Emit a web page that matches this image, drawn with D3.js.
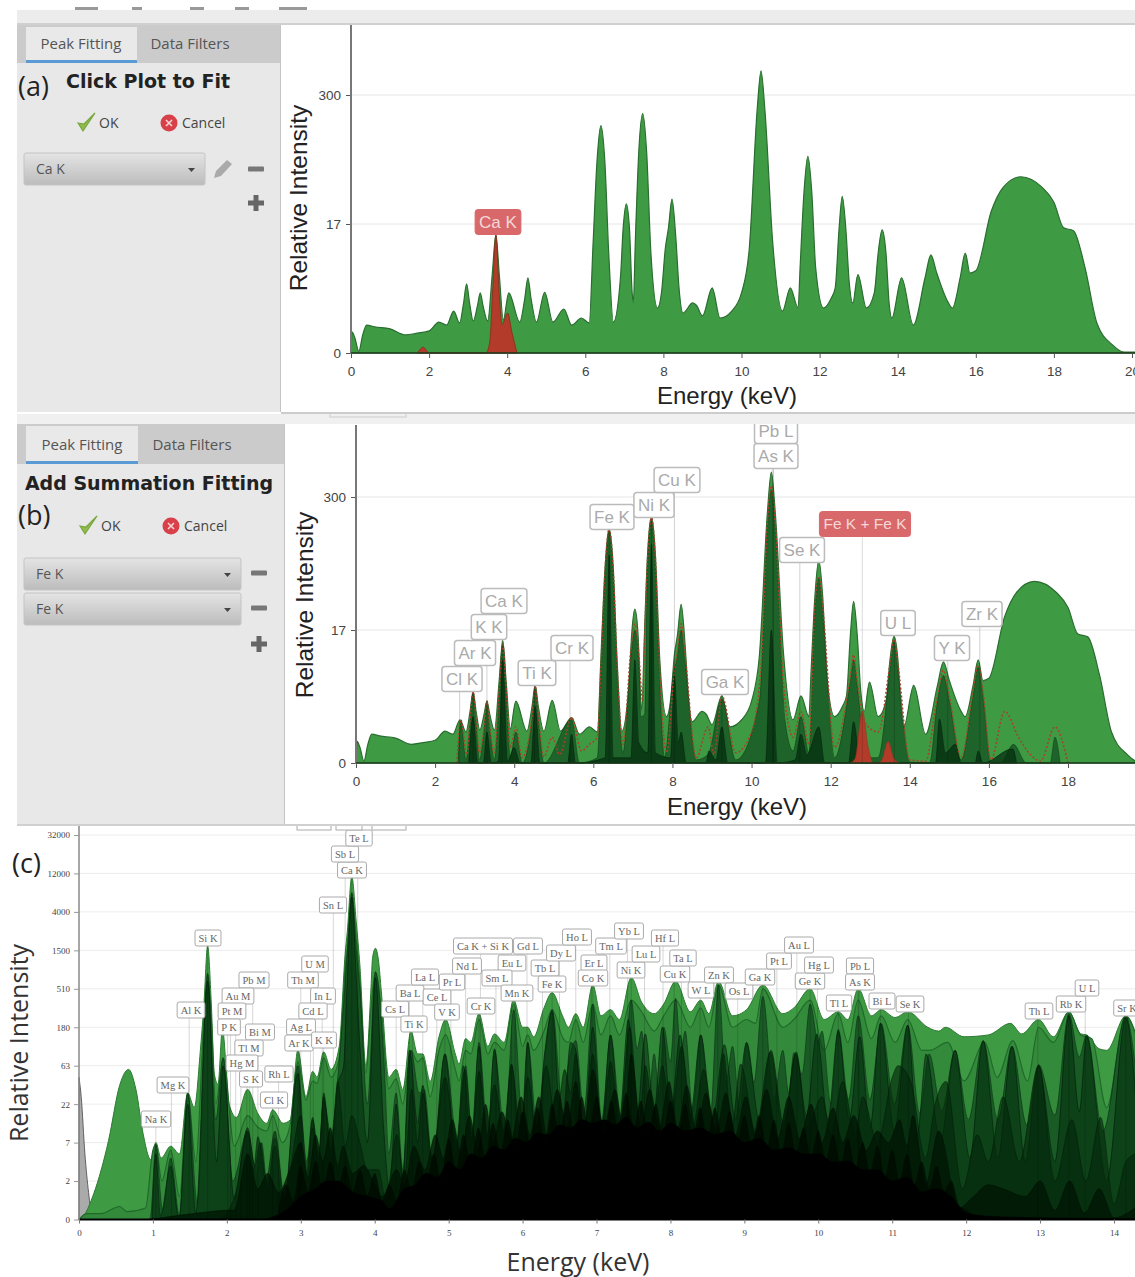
<!DOCTYPE html>
<html><head><meta charset="utf-8">
<script src="https://cdn.jsdelivr.net/npm/d3@7"></script>
<style>html,body{margin:0;padding:0;background:#fff}svg{display:block}</style>
</head><body><svg id="c" width="1135" height="1277"></svg>
<script>
// ---------- DATA: spectra as [energy keV, relative intensity] ----------
const spectrumTotal=[[0,0],[.03,.6],[.1,.4],[.2,.04],[.3,.5],[.4,.87],[.6,.8],[1,.72],[1.4,.5],[1.7,.56],[2,.64],[2.25,1],[2.45,.87],[2.63,1.56],[2.78,.96],[2.88,2],[2.96,3.7],[3.04,2],[3.13,1.05],[3.24,1.9],[3.31,2.84],[3.38,1.9],[3.5,1.05],[3.62,5],[3.71,13.3],[3.8,4.6],[3.9,1.1],[4.04,2.84],[4.32,1],[4.45,2.4],[4.53,4.4],[4.61,2.4],[4.75,1],[4.96,2.9],[5.17,1],[5.45,1.68],[5.65,.87],[5.9,1.19],[6.1,.96],[6.2,10.8],[6.3,70],[6.4,153],[6.5,70],[6.6,8.4],[6.72,1],[6.9,4.4],[6.97,15.5],[7.05,27],[7.13,15.5],[7.2,2.84],[7.23,2.07],[7.28,10.8],[7.37,87],[7.47,200],[7.57,87],[7.68,8.4],[7.85,1.74],[7.95,2.84],[8.05,9.5],[8.13,15.5],[8.22,30],[8.32,12],[8.4,3.3],[8.5,1.45],[8.75,2.07],[8.85,1.9],[9,1.3],[9.25,3.3],[9.45,1.19],[9.75,1.56],[10,2.84],[10.2,9.5],[10.4,214],[10.5,510],[10.6,214],[10.8,10.8],[11.05,1.56],[11.25,3.3],[11.45,1.74],[11.5,5.7],[11.6,35],[11.7,78],[11.8,35],[11.9,5.7],[12.1,1.74],[12.3,2.43],[12.4,3.3],[12.5,15.5],[12.58,32],[12.67,15.5],[12.76,3.8],[12.85,2.07],[12.98,4.8],[13.2,1.74],[13.4,2.84],[13.5,8.4],[13.6,14.8],[13.7,8.4],[13.78,2.07],[13.85,1.19],[14.1,4.4],[14.4,.87],[14.7,4.4],[14.85,8],[15,5],[15.3,2.07],[15.4,1.74],[15.6,4.4],[15.73,8.4],[15.85,5],[16,5.3],[16.4,23],[16.7,39],[17.15,49.5],[17.7,39],[18,28],[18.25,15.5],[18.5,14.5],[18.8,5.7],[19.1,.96],[19.5,.2],[19.8,.02],[20.3,.02]];
const aFitCaK=[[1.7,0],[1.85,.14],[2,0],[3.45,0],[3.55,.25],[3.62,2.5],[3.71,13],[3.8,2.5],[3.87,.9],[4.01,1.45],[4.12,.6],[4.25,0]];
const bFitSum=[[2.55,0],[2.65,1.56],[2.8,.2],[2.88,1.45],[2.96,3.7],[3.04,1.45],[3.12,.25],[3.24,1.19],[3.31,2.84],[3.38,1.19],[3.5,.25],[3.62,3.8],[3.71,12],[3.8,3.8],[3.9,.4],[4.04,1.19],[4.2,.12],[4.45,1.74],[4.53,4.3],[4.61,1.74],[4.75,.14],[4.96,.75],[5.15,.2],[5.45,1.68],[5.7,.3],[5.9,.5],[6.1,.75],[6.2,8.4],[6.3,65],[6.4,153],[6.5,65],[6.6,7.6],[6.75,.5],[6.95,10.8],[7.05,19.5],[7.15,9.5],[7.25,2.84],[7.28,8.4],[7.37,78],[7.47,192],[7.57,78],[7.67,7.6],[7.85,.25],[8.05,6.5],[8.13,10.8],[8.22,19.5],[8.32,9.5],[8.6,.12],[8.9,1.19],[9.05,.2],[9.25,3.3],[9.6,.25],[10,.96],[10.25,8.4],[10.4,170],[10.5,380],[10.6,170],[10.8,5],[11.05,.75],[11.25,2.07],[11.45,.5],[11.6,28],[11.7,55],[11.8,28],[12.1,.4],[12.5,5.7],[12.58,9.5],[12.67,5],[12.85,1.45],[13.2,.96],[13.5,7.6],[13.6,13.7],[13.7,7.6],[14,.07],[14.4,.04],[14.7,3.3],[14.85,6.5],[15,3.3],[15.3,.12],[15.6,3.8],[15.73,7.4],[15.85,3.8],[16.05,.07],[16.4,2.07],[16.75,.75],[17.05,.2],[17.3,.04],[17.67,1.19],[18,0]];
const bPeaksMid=[[2.58,0],[2.65,1.45],[2.78,.07],[2.88,1.3],[2.96,3.6],[3.04,1.3],[3.12,.07],[3.24,1.05],[3.31,2.6],[3.38,1.05],[3.5,.07],[3.62,3.4],[3.71,12],[3.8,3.4],[3.9,.12],[4.04,.96],[4.2,0],[4.45,1.56],[4.53,4.2],[4.61,1.56],[4.75,0],[5.45,1.56],[5.65,0],[6.1,.12],[6.2,7],[6.3,58],[6.4,145],[6.5,58],[6.6,6],[6.75,.25],[6.95,9],[7.05,17],[7.15,8],[7.2,1.74],[7.3,1.9],[7.37,66],[7.47,180],[7.57,66],[7.67,6],[7.8,.12],[8.03,6.2],[8.13,9.5],[8.22,17],[8.32,8],[8.6,.07],[8.9,.2],[9.25,3],[9.6,.07],[10.2,2.84],[10.4,150],[10.5,350],[10.6,150],[10.85,1.45],[11.05,.3],[11.25,1.74],[11.45,.25],[11.6,25],[11.7,53],[11.8,25],[12.1,.12],[12.5,5],[12.58,8.4],[12.67,4.4],[12.9,.12],[13.2,.12],[13.5,6.5],[13.6,13],[13.7,6.5],[14,.02],[14.5,0],[14.7,2.84],[14.85,5.7],[15,2.84],[15.3,.07],[15.6,3.3],[15.73,7],[15.85,3.3],[16.05,0],[16.3,0],[16.62,.5],[16.95,0],[17.55,0],[17.67,.75],[17.8,0]];
const bPeaksDark=[[2.85,0],[2.96,1.74],[3.08,0],[3.22,0],[3.31,.96],[3.42,0],[3.6,.04],[3.71,8.4],[3.83,.04],[4,.4],[4.15,0],[4.42,0],[4.53,2.43],[4.65,0],[5.35,0],[5.45,.87],[5.55,0],[6.3,.12],[6.4,87],[6.5,.12],[6.95,.12],[7.05,8.4],[7.15,.56],[7.38,.25],[7.47,109],[7.57,.25],[7.95,.12],[8.05,5.7],[8.15,.56],[8.22,.96],[8.35,0],[8.85,0],[8.92,.3],[9.1,.07],[9.25,1.19],[9.4,0],[10.35,0],[10.5,17],[10.65,0],[11.1,.07],[11.25,.87],[11.4,.2],[11.7,1.19],[11.85,0],[12.45,0],[12.58,1.45],[12.75,0],[14.65,0],[14.75,1.6],[14.9,.25],[15.15,.5],[15.3,0],[15.65,0],[15.73,.3],[15.85,0],[16.6,.36],[16.7,0]];
const bFitFeKFeK=[[12.5,0],[12.62,.1],[12.8,2.1],[12.95,.4],[13.08,0],[13.2,0],[13.3,.08],[13.45,.6],[13.6,.1],[13.75,0]];

const cPileup=[[0,46],[.03,27],[.08,5],[.13,1.16],[.18,.05],[.22,0]];
const cTotal=[[0,0],[.06,.1],[.2,1.1],[.4,7.5],[.55,37],[.67,57],[.77,33],[.87,8.9],[.97,4.2],[1.04,7],[1.11,4.4],[1.24,6.3],[1.36,5],[1.47,30],[1.56,20],[1.64,92],[1.69,338],[1.74,1680],[1.79,338],[1.83,51],[1.88,38],[1.94,170],[2.03,22],[2.13,15],[2.28,33],[2.42,16.7],[2.54,12.6],[2.62,18.7],[2.76,12.6],[2.86,14],[2.96,96],[3.07,27],[3.16,54],[3.22,46],[3.31,92],[3.41,57],[3.52,107],[3.6,1340],[3.63,2450],[3.69,11000],[3.75,3100],[3.8,970],[3.88,63],[3.95,530],[3.97,1200],[4.01,1580],[4.05,1150],[4.09,470],[4.19,46],[4.29,57],[4.38,33],[4.49,162],[4.58,87],[4.65,87],[4.75,41],[4.87,139],[4.96,222],[5.09,87],[5.14,66],[5.23,132],[5.3,119],[5.41,260],[5.53,107],[5.62,150],[5.75,119],[5.88,375],[6,180],[6.07,180],[6.15,139],[6.29,304],[6.4,460],[6.54,246],[6.62,180],[6.72,260],[6.82,180],[6.95,566],[7.06,246],[7.19,290],[7.31,222],[7.47,698],[7.61,355],[7.78,260],[7.91,338],[8.07,629],[8.27,274],[8.41,375],[8.52,260],[8.65,629],[8.84,246],[9.03,290],[9.25,566],[9.52,260],[9.67,304],[9.89,510],[10.08,222],[10.27,274],[10.4,222],[10.54,510],[10.72,246],[10.85,290],[11.04,234],[11.21,274],[11.48,180],[11.63,162],[11.72,180],[11.97,139],[12.3,146],[12.6,200],[12.75,150],[12.98,222],[13.18,139],[13.39,274],[13.55,150],[13.63,146],[13.8,100],[13.9,96],[14.16,246],[14.29,150]];
const cSecond=[[0,0],[.1,.18],[.3,.18],[.55,.45],[.65,.25],[.9,.39],[1,5.6],[1.04,6.6],[1.12,2],[1.24,5.6],[1.36,.93],[1.47,30],[1.58,3.9],[1.69,222],[1.74,780],[1.79,222],[1.85,22],[1.95,78],[2.1,6.3],[2.28,15.8],[2.42,11.2],[2.54,10],[2.62,15.8],[2.75,7],[2.85,11.2],[2.96,70],[3.07,24.6],[3.16,41.6],[3.22,39],[3.31,78],[3.41,46],[3.52,78],[3.6,870],[3.63,1500],[3.69,6900],[3.75,1950],[3.8,629],[3.88,51],[3.95,304],[3.98,566],[4.01,820],[4.05,566],[4.09,274],[4.19,33.7],[4.29,44],[4.38,22],[4.49,96],[4.58,70],[4.65,78],[4.75,27],[4.87,96],[4.96,146],[5.09,57],[5.14,41.6],[5.23,96],[5.3,87],[5.41,222],[5.53,87],[5.62,119],[5.75,96],[5.88,338],[6,107],[6.07,146],[6.15,96],[6.29,162],[6.4,290],[6.55,132],[6.62,119],[6.72,222],[6.82,119],[6.95,338],[7.06,146],[7.19,246],[7.31,146],[7.47,375],[7.61,274],[7.78,162],[7.91,246],[8.07,375],[8.27,180],[8.41,304],[8.52,180],[8.65,566],[8.84,180],[9.03,222],[9.15,200],[9.25,510],[9.52,180],[9.67,222],[9.89,375],[10.08,96],[10.27,260],[10.4,119],[10.54,375],[10.72,132],[10.85,246],[11.04,119],[11.21,222],[11.4,96],[11.5,96],[11.75,119],[11.97,41.6],[12.25,119],[12.42,46],[12.63,125],[12.83,41.6],[12.98,180],[13.18,119],[13.39,274],[13.55,146],[13.7,132],[13.9,19.8],[14.16,246],[14.29,154]];
const cThird=[[.95,0],[.97,.1],[1.04,6.6],[1.13,.3],[1.24,4.4],[1.36,.1],[1.47,30],[1.6,.6],[1.74,780],[1.85,14],[1.95,78],[2.08,2],[2.28,10],[2.4,2.7],[2.47,7],[2.55,1.4],[2.65,8],[2.78,.7],[2.96,63],[3.08,2.7],[3.16,14],[3.24,5],[3.31,24],[3.41,9],[3.5,46],[3.6,600],[3.63,1500],[3.69,6900],[3.75,1500],[3.8,500],[3.9,22],[4.01,820],[4.13,60],[4.19,5],[4.29,30],[4.38,3],[4.49,96],[4.6,30],[4.67,33],[4.78,3.9],[4.95,87],[5.12,7],[5.23,63],[5.32,7],[5.41,119],[5.53,9],[5.62,96],[5.76,9],[5.88,290],[6,12],[6.07,119],[6.2,10],[6.31,96],[6.4,290],[6.55,17],[6.6,48],[6.72,125],[6.83,17],[6.95,338],[7.07,14],[7.19,146],[7.33,15],[7.47,375],[7.55,100],[7.61,162],[7.7,22],[7.78,87],[7.85,27],[7.91,180],[8,70],[8.07,395],[8.14,90],[8.2,162],[8.3,18],[8.41,146],[8.54,15],[8.65,566],[8.75,40],[8.84,107],[8.94,18],[9.03,119],[9.13,40],[9.25,416],[9.4,25],[9.52,96],[9.6,30],[9.67,90],[9.78,50],[9.89,338],[10,120],[10.05,162],[10.17,22],[10.27,170],[10.41,25],[10.54,246],[10.7,25],[10.85,200],[11.03,22],[11.21,190],[11.37,17],[11.5,87],[11.67,18],[11.85,96],[12.03,14],[12.23,125],[12.43,14],[12.62,107],[12.82,12],[12.98,65],[13.2,16],[13.39,260],[13.53,80],[13.63,146],[13.85,10],[14.16,246],[14.29,60]];
const cFourth=[[.99,.05],[1.04,5],[1.1,.1],[1.24,3.4],[1.35,.05],[1.47,22],[1.58,.2],[1.74,629],[1.86,3.9],[1.95,63],[2.1,.8],[2.28,11],[2.38,3.4],[2.45,7],[2.55,1.4],[2.65,6.3],[2.76,.3],[2.96,51],[3.07,1.7],[3.16,11],[3.24,3],[3.31,27],[3.41,4.4],[3.5,37],[3.58,63],[3.63,700],[3.69,6100],[3.75,700],[3.8,107],[3.9,7],[4.01,698],[4.12,11],[4.2,1.4],[4.29,22],[4.38,2],[4.47,96],[4.58,12.6],[4.65,37],[4.78,2.65],[4.95,87],[5.1,4.4],[5.2,63],[5.3,6.3],[5.41,107],[5.52,7],[5.62,100],[5.74,6.3],[5.85,66],[5.97,5.6],[6.07,119],[6.18,6.3],[6.3,92],[6.4,274],[6.53,7],[6.65,119],[6.72,96],[6.83,8.9],[6.95,180],[7.07,11],[7.19,146],[7.31,14],[7.43,222],[7.55,15.8],[7.66,150],[7.78,17.7],[7.89,180],[8.01,17.7],[8.13,146],[8.27,15.8],[8.41,146],[8.57,14],[8.73,112],[8.88,14],[9.03,119],[9.2,14],[9.36,96],[9.53,12.6],[9.7,92],[9.84,15.8],[9.98,150],[10.13,14],[10.27,162],[10.42,14],[10.56,139],[10.7,11],[10.84,200],[11.03,10],[11.21,190],[11.34,8.9],[11.46,87],[11.65,7],[11.85,96],[12.05,4.4],[12.23,125],[12.43,4.4],[12.62,107],[12.8,3.9],[12.98,63],[13.2,3.9],[13.39,246],[13.53,17.7],[13.63,139],[13.9,2],[14.16,234],[14.29,30]];
const cFifth=[[1.9,0],[2,.2],[2.12,1.16],[2.28,10],[2.36,3],[2.42,8.4],[2.53,2],[2.65,10],[2.78,.93],[3,15.8],[3.08,3.9],[3.16,15],[3.24,4.4],[3.31,30],[3.41,5.6],[3.5,41],[3.6,6.3],[3.69,15.8],[3.8,7],[3.9,3],[4.05,3],[4.15,.73],[4.3,8.9],[4.4,2],[4.5,33],[4.58,7],[4.65,30],[4.78,4.4],[4.95,46],[5.1,7],[5.22,57],[5.32,8.9],[5.41,54],[5.52,8.9],[5.62,37.5],[5.74,10],[5.85,63],[5.97,11],[6.07,46],[6.18,11],[6.32,63],[6.45,12.6],[6.57,57],[6.65,30],[6.72,87],[6.83,10],[6.95,87],[7.07,10],[7.19,70],[7.31,12.6],[7.45,180],[7.58,14],[7.66,63],[7.78,15.8],[7.89,63],[8.01,14],[8.15,107],[8.3,11],[8.45,57],[8.6,11],[8.72,87],[8.83,11],[8.95,66],[9.15,10],[9.35,92],[9.53,10],[9.7,87],[9.85,11],[10.05,27],[10.17,8.9],[10.33,41],[10.5,8.9],[10.6,27],[10.8,7],[11,46],[11.08,63],[11.25,41],[11.45,4.4],[11.58,22],[11.73,41],[11.95,1.4],[12.15,8.9],[12.3,3.9],[12.5,27],[12.72,3.9],[12.98,63],[13.2,2],[13.43,14],[13.62,2],[13.82,15],[14,.55],[14.16,3.9],[14.29,5]];
const cSixth=[[.95,0],[1.6,.2],[2,.3],[2.1,.3],[2.28,5],[2.42,1.4],[2.55,2.65],[2.7,1.16],[2.85,3],[3,7],[3.1,2.3],[3.2,8.9],[3.3,3.9],[3.4,11],[3.5,3.45],[3.57,6.3],[3.7,2.65],[3.85,3.45],[4,1.7],[4.1,.93],[4.3,3],[4.4,1.7],[4.53,6.3],[4.68,3],[4.82,8.9],[4.93,4.4],[5.05,14],[5.17,5],[5.28,15.8],[5.4,5.6],[5.5,22],[5.6,7],[5.72,17.7],[5.85,7.9],[5.98,27],[6.1,8.9],[6.22,27],[6.33,8.9],[6.47,33],[6.6,11],[6.72,41],[6.83,10],[6.95,57],[7.1,8.9],[7.25,33],[7.37,10],[7.47,87],[7.6,11],[7.72,33],[7.85,11],[7.98,41],[8.1,11],[8.22,37],[8.35,10],[8.48,30],[8.62,10],[8.75,30],[8.88,8.9],[9.02,27],[9.15,8.9],[9.3,33],[9.45,7.9],[9.6,27],[9.75,7.9],[9.9,22],[10.05,7],[10.2,19.8],[10.33,7],[10.48,15.8],[10.65,5.6],[10.8,10],[10.95,7],[11.1,14],[11.2,6.3],[11.28,15.8],[11.45,1.7],[11.63,10],[11.9,.39],[12.1,.93],[12.3,1.7],[12.5,1.4],[12.8,.93],[13,2],[13.2,.3],[13.4,2],[13.6,.2],[13.8,1.4],[14,.05],[14.29,.4]];
const cSpikes=[[2.7,.3],[2.8,1.7],[2.9,.7],[3,3.4],[3.1,1.2],[3.2,3.9],[3.3,1.4],[3.4,3.9],[3.5,1.4],[3.6,3.4],[3.7,1.2],[3.8,3],[3.9,1],[4,2.65],[4.1,.7],[4.2,1.7],[4.3,.7],[4.4,3],[4.5,1.2],[4.6,3.9],[4.7,1.7],[4.8,5],[4.9,2],[5,7.9],[5.1,3],[5.2,8.9],[5.3,3.4],[5.4,11],[5.5,4.4],[5.6,12.6],[5.7,5],[5.8,14],[5.9,5.6],[6,17.7],[6.1,7],[6.2,19.8],[6.3,7],[6.4,22],[6.5,8.9],[6.6,24],[6.7,8.9],[6.8,27],[6.9,10],[7,27],[7.1,10],[7.2,24],[7.3,10],[7.4,30],[7.5,10],[7.6,24],[7.7,8.9],[7.8,22],[7.9,8.9],[8,24],[8.1,8.9],[8.2,22],[8.3,8],[8.4,19.8],[8.5,7.9],[8.6,19.8],[8.7,7.9],[8.8,17.7],[8.9,7],[9,15.8],[9.1,6.3],[9.2,15.8],[9.3,5.6],[9.4,14],[9.5,5],[9.6,12.6],[9.7,5],[9.8,11],[9.9,4.4],[10,10],[10.1,3.9],[10.2,8.9],[10.3,3.4],[10.4,7.9],[10.5,3],[10.6,7],[10.7,2.65],[10.8,6.3],[10.9,2.3],[11,5.6],[11.1,2],[11.2,5],[11.3,1.7],[11.4,3.9],[11.5,1.4],[11.6,3.4],[11.7,1.2],[11.8,2],[11.9,.5],[12,.3],[12.2,0]];
const cSeventh=[[2.5,0],[2.8,.3],[3,.93],[3.2,1.4],[3.35,2],[3.5,2],[3.7,1.2],[3.9,.93],[4.1,.7],[4.2,.35],[4.4,1.4],[4.55,1.7],[4.7,2.65],[4.85,2.3],[5,3.9],[5.15,3],[5.3,5],[5.45,4.4],[5.6,6.3],[5.75,5.6],[5.9,8],[6.05,7],[6.2,9.4],[6.35,8.9],[6.5,12],[6.65,11],[6.8,14],[6.95,12.6],[7.1,14],[7.25,12],[7.4,15],[7.55,11],[7.7,13],[7.85,10],[8,12.6],[8.2,10],[8.4,11],[8.6,9],[8.8,10],[9,7],[9.2,8],[9.4,5.6],[9.6,6],[9.8,5],[10,5],[10.2,3.9],[10.4,4],[10.6,3],[10.8,3],[11,2],[11.2,2.3],[11.4,1.2],[11.6,1.4],[11.8,.9],[12,.2],[12.3,.1],[13,.05],[14.29,.02]];

// ---------- DATA: ticks and labels ----------
const abYTicks=[0,17,300];
const abXTicksA=[0,2,4,6,8,10,12,14,16,18,20];
const abXTicksB=[0,2,4,6,8,10,12,14,16,18];
const cYTicks=[0,2,7,22,63,180,510,1500,4000,12000,32000];
const cXTicks=[0,1,2,3,4,5,6,7,8,9,10,11,12,13,14];
const bLabelNames=["Cl K","Ar K","K K","Ca K","Ti K","Cr K","Fe K","Ni K","Cu K","Ga K","As K","Pb L","Se K","U L","Y K","Zr K"];
const bLabelEnergies=[2.62,2.96,3.31,3.69,4.51,5.41,6.4,7.47,8.05,9.25,10.54,10.55,11.22,13.61,14.96,15.77];
const cLabelNames=["Si K","Al K","Mg K","Na K","Pb M","Au M","Pt M","P K","Bi M","Tl M","Hg M","S K","Rh L","Cl K","U M","Th M","In L","Cd L","Ag L","Ar K","K K","Sn L","Ca K","Sb L","Te L","Cs L","Ba L","La L","Ce L","Ti K","Pr L","V K","Nd L","Ca K + Si K","Gd L","Eu L","Sm L","Cr K","Mn K","Tb L","Fe K","Dy L","Ho L","Er L","Co K","Tm L","Ni K","Yb L","Lu L","Hf L","Cu K","Ta L","W L","Zn K","Os L","Ga K","Pt L","Ge K","Au L","Hg L","Tl L","Pb L","As K","Bi L","Se K","Th L","Rb K","U L","Sr K"];
const cLabelEnergies=[1.74,1.49,1.25,1.04,2.35,2.12,2.05,2.01,2.42,2.27,2.19,2.31,2.7,2.62,3.17,3,3.29,3.13,2.98,2.96,3.31,3.44,3.69,3.6,3.77,4.29,4.47,4.65,4.84,4.51,5.03,4.95,5.23,5.43,6.06,5.85,5.64,5.41,5.9,6.27,6.4,6.5,6.72,6.95,6.93,7.18,7.47,7.42,7.65,7.9,8.05,8.15,8.4,8.64,8.91,9.25,9.44,9.89,9.71,9.99,10.27,10.55,10.54,10.84,11.22,12.97,13.39,13.61,14.16];

// ---------- LAYOUT ----------
const bLabelCx=[462,475,489,504,537,572,612,654,677,725,776,776,802,898,952,982];
const bLabelCy=[679,653,627,601,673,648,517,505,480,682,456,431,550,623,648,614];
const cLabelCx=[208,191,173,156,254,238,232,229,260,249,242,251,279,274,315,303,323,313,301,299,324,333,352,345,359,395,410,425,437,414,452,447,467,483,528,512,497,481,517,545,552,561,577,594,593,611,631,629,646,665,675,683,701,719,739,760,779,810,799,819,839,860,860,882,910,1039,1071,1087,1127];
const cLabelCy=[938,1010,1085,1119,980,996,1011,1027,1032,1048,1063,1079,1074,1100,964,980,996,1011,1027,1043,1040,905,870,854,838,1009,993,977,997,1024,982,1012,966,946,946,963,978,1006,993,968,984,953,937,963,978,946,970,931,954,938,974,958,990,975,991,977,961,981,945,965,1003,966,982,1001,1004,1011,1004,988,1008];

const svg=d3.select("#c");
const defs=svg.append("defs");
const grad=defs.append("linearGradient").attr("id","combo").attr("x1",0).attr("x2",0).attr("y1",0).attr("y2",1);
grad.append("stop").attr("offset",0).attr("stop-color","#e4e4e4");
grad.append("stop").attr("offset",1).attr("stop-color","#bcbcbc");
defs.append("clipPath").attr("id","clipC").append("rect").attr("x",0).attr("y",826).attr("width",1135).attr("height",451);
defs.append("clipPath").attr("id","clipB").append("rect").attr("x",285).attr("y",424).attr("width",850).attr("height",400);
const SANS="'Liberation Sans',Arial,sans-serif",SERIF="'Liberation Serif',serif",DEJA="'DejaVu Sans',sans-serif",OPEN="'Open Sans',sans-serif";

function makeY(ticks,y0,step){
  return d3.scaleLinear().domain(ticks.map(Math.log1p)).range(ticks.map((_,i)=>y0-i*step));
}
function areaGen(x,y){
  return d3.area().x(d=>x(d[0])).y0(y(0)).y1(d=>y(Math.log1p(d[1]))).curve(d3.curveMonotoneX);
}
function lineGen(x,y){
  return d3.line().x(d=>x(d[0])).y(d=>y(Math.log1p(d[1]))).curve(d3.curveMonotoneX);
}
function fmtAxis(sel,o){
  sel.selectAll("path").remove();
  sel.selectAll("line").attr("stroke",o.tick);
  sel.selectAll("text").attr("font-family",o.font).attr("font-size",o.size).attr("fill",o.color);
}
function labelBox(g,cx,cy,text,o){
  const gg=g.append("g");
  const r=gg.append("rect").attr("rx",o.rx).attr("ry",o.rx).attr("fill",o.fill).attr("stroke",o.stroke).attr("stroke-width",o.sw);
  const t=gg.append("text").attr("x",cx).attr("y",cy+o.size*.35).attr("text-anchor","middle").attr("font-family",o.font).attr("font-size",o.size).attr("fill",o.color).text(text);
  const w=t.node().getComputedTextLength()+o.pad*2;
  r.attr("x",cx-w/2).attr("y",cy-o.h/2).attr("width",w).attr("height",o.h);
}

// ---------- backgrounds ----------
svg.append("rect").attr("x",0).attr("y",0).attr("width",1135).attr("height",1277).attr("fill","#fff");
svg.append("rect").attr("x",17).attr("y",10).attr("width",1118).attr("height",13).attr("fill","#ececec");
[[75,23],[132,10],[190,14],[235,14],[279,28]].forEach(d=>svg.append("rect").attr("x",d[0]).attr("y",7).attr("width",d[1]).attr("height",3).attr("fill","#999"));
svg.append("rect").attr("x",17).attr("y",23).attr("width",1118).attr("height",2).attr("fill","#d0d0d0");

function sidePanel(y0,y1,xR,tabY,tabUnder){
  const g=svg.append("g");
  g.append("rect").attr("x",17).attr("y",y0).attr("width",xR-17).attr("height",y1-y0).attr("fill","#e8e8e8");
  g.append("rect").attr("x",17).attr("y",y0).attr("width",xR-17).attr("height",tabUnder-y0).attr("fill","#cbcbcb");
  g.append("rect").attr("x",26).attr("y",y0+2).attr("width",xR==281?111:112).attr("height",tabUnder-y0-2).attr("fill","#e9e9e9");
  g.append("rect").attr("x",26).attr("y",tabUnder-3).attr("width",xR==281?111:112).attr("height",3).attr("fill","#5b9bd5");
  g.append("rect").attr("x",xR-1).attr("y",y0).attr("width",1.5).attr("height",y1-y0).attr("fill","#c4c4c4");
  g.append("text").attr("x",xR==281?81:82).attr("y",tabY).attr("text-anchor","middle").attr("font-family",OPEN).attr("font-size",15).attr("fill","#555").text("Peak Fitting");
  g.append("text").attr("x",xR==281?190:192).attr("y",tabY).attr("text-anchor","middle").attr("font-family",OPEN).attr("font-size",15).attr("fill","#555").text("Data Filters");
  return g;
}
function okCancel(g,yc,xOK,xCan){
  g.append("path").attr("d",`M${xOK-10} ${yc} L${xOK-5} ${yc+8} L${xOK+7} ${yc-10} L${xOK-4} ${yc+1} Z`).attr("fill","#8dbb4c").attr("stroke","#7aa63f").attr("stroke-width",1.2);
  g.append("text").attr("x",xOK+11).attr("y",yc+5).attr("font-family",OPEN).attr("font-size",14).attr("fill","#444").text("OK");
  g.append("circle").attr("cx",xCan).attr("cy",yc).attr("r",8.5).attr("fill","#d8404a");
  g.append("path").attr("d",`M${xCan-3} ${yc-3}L${xCan+3} ${yc+3}M${xCan+3} ${yc-3}L${xCan-3} ${yc+3}`).attr("stroke","#f5d5d5").attr("stroke-width",1.6);
  g.append("text").attr("x",xCan+13).attr("y",yc+5).attr("font-family",OPEN).attr("font-size",14).attr("fill","#444").text("Cancel");
}
function combo(g,y,w,text){
  g.append("rect").attr("x",24).attr("y",y).attr("width",w).attr("height",32).attr("rx",2).attr("fill","url(#combo)").attr("stroke","#c4c4c4");
  g.append("text").attr("x",36).attr("y",y+21).attr("font-family",OPEN).attr("font-size",14).attr("fill","#555").text(text);
  const ax=24+w-14;
  g.append("path").attr("d",`M${ax-3} ${y+15}h7l-3.5 4z`).attr("fill","#444");
}
function minus(g,x,y){g.append("rect").attr("x",x-8).attr("y",y-2.5).attr("width",16).attr("height",5).attr("rx",1).attr("fill","#777");}
function plus(g,x,y){g.append("path").attr("d",`M${x-8} ${y}H${x+8}M${x} ${y-8}V${y+8}`).attr("stroke","#666").attr("stroke-width",5);}

// ---------- panel (c) drawn first, so panels above cover its clipped labels ----------
const xC=d3.scaleLinear().domain([0,14]).range([79,1114]);
const yC=makeY(cYTicks,1219.5,38.45);
const gC=svg.append("g");
cYTicks.forEach(t=>{ if(t>0) gC.append("line").attr("x1",79).attr("x2",1135).attr("y1",yC(Math.log1p(t))).attr("y2",yC(Math.log1p(t))).attr("stroke","#ececec");});
const areaC=areaGen(xC,yC);
gC.append("path").datum(cPileup).attr("d",areaC).attr("fill","#aaa").attr("stroke","#444").attr("stroke-width",.8);
gC.append("path").datum(cTotal).attr("d",areaC).attr("fill","#3f9a44").attr("stroke","#2c7a32").attr("stroke-width",1);
const cStyles=[[cSecond,"rgba(12,80,28,.22)","#1f6a2a",1.2],[cThird,"rgba(10,62,24,.62)","rgba(10,50,20,.8)",.8],[cFourth,"rgba(6,48,16,.58)","rgba(0,30,10,.8)",.8],[cFifth,"rgba(3,38,10,.62)","rgba(0,25,5,.7)",.7],[cSixth,"rgba(0,22,4,.78)","rgba(0,15,0,.7)",.7],[cSpikes,"rgba(0,8,0,.72)","rgba(0,10,0,.6)",.5],[cSeventh,"rgba(0,0,0,.93)","#000",.5]];
cStyles.forEach(s=>gC.append("path").datum(s[0]).attr("d",areaC).attr("fill",s[1]).attr("stroke",s[2]).attr("stroke-width",s[3]));
gC.append("line").attr("x1",79).attr("x2",1135).attr("y1",yC(0)).attr("y2",yC(0)).attr("stroke","#000").attr("stroke-width",2);
const cAxisY=gC.append("g").attr("transform","translate(79,0)").call(d3.axisLeft(yC).tickValues(cYTicks.map(Math.log1p)).tickFormat(d=>Math.round(Math.expm1(d))).tickSize(5).tickPadding(4));
fmtAxis(cAxisY,{tick:"#999",font:SERIF,size:9,color:"#444"});
gC.append("line").attr("x1",79).attr("x2",79).attr("y1",826).attr("y2",1220).attr("stroke","#888").attr("stroke-width",1.5);
const cAxisX=gC.append("g").attr("transform",`translate(0,${yC(0)})`).call(d3.axisBottom(xC).tickValues(cXTicks).tickSize(4).tickPadding(6));
fmtAxis(cAxisX,{tick:"#777",font:SERIF,size:9,color:"#444"});
const gCLab=svg.append("g").attr("clip-path","url(#clipC)");
cLabelNames.forEach((n,i)=>{
  gCLab.append("line").attr("x1",xC(cLabelEnergies[i])).attr("x2",xC(cLabelEnergies[i])).attr("y1",cLabelCy[i]).attr("y2",yC(0)).attr("stroke","rgba(0,0,0,.16)").attr("stroke-width",1);
});
const cBoxStyle={rx:2,fill:"rgba(255,255,255,.95)",stroke:"#aaa",sw:1,size:10.5,font:SERIF,color:"#666",pad:3.5,h:16};
cLabelNames.forEach((n,i)=>labelBox(gCLab,cLabelCx[i],cLabelCy[i],n,cBoxStyle));
[[321,24],[356,20],[396,24]].forEach(d=>gCLab.append("rect").attr("x",d[0]-d[1]).attr("y",818).attr("width",d[1]*2-14).attr("height",12).attr("fill","#fff").attr("stroke","#aaa"));
svg.append("text").attr("x",12).attr("y",873).attr("font-family",OPEN).attr("font-size",27).attr("fill","#222").text("(c)");
svg.append("text").attr("transform","translate(28,1043) rotate(-90)").attr("text-anchor","middle").attr("font-family",OPEN).attr("font-size",25).attr("fill","#333").text("Relative Intensity");
svg.append("text").attr("x",578).attr("y",1271).attr("text-anchor","middle").attr("font-family",OPEN).attr("font-size",25).attr("fill","#333").text("Energy (keV)");

// ---------- panel (a) ----------
const sa=sidePanel(25,412,281,49,63);
sa.append("text").attr("x",148).attr("y",88).attr("text-anchor","middle").attr("font-family",DEJA).attr("font-weight","bold").attr("font-size",19).attr("fill","#222").text("Click Plot to Fit");
sa.append("text").attr("x",18).attr("y",96).attr("font-family",OPEN).attr("font-size",27).attr("fill","#222").text("(a)");
okCancel(sa,123,88,169);
combo(sa,153,181,"Ca K");
sa.append("path").attr("d","M214 178l2-7 11-11 5 4-11 12z").attr("fill","#aaa");
minus(sa,256,169);plus(sa,256,203);
const gA=svg.append("g");
gA.append("rect").attr("x",281).attr("y",25).attr("width",854).attr("height",387).attr("fill","#fff");
const xA=d3.scaleLinear().domain([0,20]).range([351,1132]);
const yA=makeY(abYTicks,353,129);
abYTicks.forEach(t=>{ if(t>0) gA.append("line").attr("x1",351).attr("x2",1135).attr("y1",yA(Math.log1p(t))).attr("y2",yA(Math.log1p(t))).attr("stroke","#e6e6e6");});
const areaA=areaGen(xA,yA);
gA.append("path").datum(spectrumTotal).attr("d",areaA).attr("fill","#3f9a44").attr("stroke","#2a6d30").attr("stroke-width",1.2);
gA.append("path").datum(aFitCaK).attr("d",areaA).attr("fill","#b23b2a").attr("stroke","#8a2a1c").attr("stroke-width",.8);
const aAxY=gA.append("g").attr("transform","translate(351,0)").call(d3.axisLeft(yA).tickValues(abYTicks.map(Math.log1p)).tickFormat(d=>Math.round(Math.expm1(d))).tickSize(5).tickPadding(5));
fmtAxis(aAxY,{tick:"#555",font:SANS,size:13.5,color:"#444"});
gA.append("line").attr("x1",351).attr("x2",351).attr("y1",25).attr("y2",354).attr("stroke","#777").attr("stroke-width",2);
gA.append("line").attr("x1",351).attr("x2",1135).attr("y1",353).attr("y2",353).attr("stroke","#1c3a1c").attr("stroke-width",1.5);
const aAxX=gA.append("g").attr("transform","translate(0,353)").call(d3.axisBottom(xA).tickValues(abXTicksA).tickSize(5).tickPadding(8));
fmtAxis(aAxX,{tick:"#555",font:SANS,size:13.5,color:"#444"});
gA.append("text").attr("transform","translate(307,198) rotate(-90)").attr("text-anchor","middle").attr("font-family",SANS).attr("font-size",24.5).attr("fill","#222").text("Relative Intensity");
gA.append("text").attr("x",727).attr("y",404).attr("text-anchor","middle").attr("font-family",SANS).attr("font-size",24).attr("fill","#222").text("Energy (keV)");
labelBox(gA,498,222,"Ca K",{rx:3,fill:"#d9686b",stroke:"#d9686b",sw:1,size:17,font:SANS,color:"#f4d8d8",pad:4,h:25});
svg.append("rect").attr("x",281).attr("y",412).attr("width",854).attr("height",2).attr("fill","#ccc");
svg.append("rect").attr("x",17).attr("y",414).attr("width",1118).attr("height",10).attr("fill","#f0f0f0");
svg.append("rect").attr("x",330).attr("y",413).attr("width",76).attr("height",4).attr("fill","none").attr("stroke","#ccc");

// ---------- panel (b) ----------
const sb=sidePanel(424,824,285,450,464);
sb.append("text").attr("x",149).attr("y",490).attr("text-anchor","middle").attr("font-family",DEJA).attr("font-weight","bold").attr("font-size",19).attr("fill","#222").text("Add Summation Fitting");
sb.append("text").attr("x",18).attr("y",525).attr("font-family",OPEN).attr("font-size",27).attr("fill","#222").text("(b)");
okCancel(sb,526,90,171);
combo(sb,558,217,"Fe K");combo(sb,593,217,"Fe K");
minus(sb,259,573);minus(sb,259,608);plus(sb,259,644);
const gB=svg.append("g");
gB.append("rect").attr("x",285).attr("y",424).attr("width",850).attr("height",401).attr("fill","#fff");
const xB=d3.scaleLinear().domain([0,18]).range([356,1068]);
const yB=makeY(abYTicks,763,133);
abYTicks.forEach(t=>{ if(t>0) gB.append("line").attr("x1",356).attr("x2",1135).attr("y1",yB(Math.log1p(t))).attr("y2",yB(Math.log1p(t))).attr("stroke","#e6e6e6");});
const areaB=areaGen(xB,yB),lineB=lineGen(xB,yB);
gB.append("path").datum(spectrumTotal).attr("d",areaB).attr("fill","#3f9a44").attr("stroke","#2a6d30").attr("stroke-width",1.2);
gB.append("path").datum(bPeaksMid).attr("d",areaB).attr("fill","rgba(20,85,35,.78)").attr("stroke","rgba(10,60,20,.8)").attr("stroke-width",.7);
gB.append("path").datum(bPeaksDark).attr("d",areaB).attr("fill","rgba(5,45,15,.75)").attr("stroke","rgba(0,30,10,.8)").attr("stroke-width",.7);
gB.append("path").datum(bFitFeKFeK).attr("d",areaB).attr("fill","#b23b2a").attr("stroke","#9a2f20").attr("stroke-width",.6);
gB.append("path").datum(bFitSum).attr("d",lineB).attr("fill","none").attr("stroke","#a8402a").attr("stroke-width",1.5).attr("stroke-dasharray","2,2");
const gBLab=svg.append("g").attr("clip-path","url(#clipB)");
bLabelNames.forEach((n,i)=>gBLab.append("line").attr("x1",xB(bLabelEnergies[i])).attr("x2",xB(bLabelEnergies[i])).attr("y1",bLabelCy[i]).attr("y2",yB(0)).attr("stroke","rgba(0,0,0,.18)").attr("stroke-width",1));
gBLab.append("line").attr("x1",xB(12.8)).attr("x2",xB(12.8)).attr("y1",524).attr("y2",yB(0)).attr("stroke","rgba(0,0,0,.14)");
const bBoxStyle={rx:3,fill:"rgba(255,255,255,.96)",stroke:"#bbb",sw:1.5,size:17,font:SANS,color:"#aaa",pad:4,h:25};
bLabelNames.forEach((n,i)=>labelBox(gBLab,bLabelCx[i],bLabelCy[i],n,bBoxStyle));
labelBox(gBLab,865,524,"Fe K + Fe K",{rx:3,fill:"#d9686b",stroke:"#d9686b",sw:1,size:15.5,font:SANS,color:"#f4d8d8",pad:4,h:25});
const bAxY=gB.append("g").attr("transform","translate(356,0)").call(d3.axisLeft(yB).tickValues(abYTicks.map(Math.log1p)).tickFormat(d=>Math.round(Math.expm1(d))).tickSize(5).tickPadding(5));
fmtAxis(bAxY,{tick:"#555",font:SANS,size:13.5,color:"#444"});
gB.append("line").attr("x1",356).attr("x2",356).attr("y1",425).attr("y2",764).attr("stroke","#777").attr("stroke-width",2);
gB.append("line").attr("x1",356).attr("x2",1135).attr("y1",763).attr("y2",763).attr("stroke","#1c3a1c").attr("stroke-width",1.5);
const bAxX=gB.append("g").attr("transform","translate(0,763)").call(d3.axisBottom(xB).tickValues(abXTicksB).tickSize(5).tickPadding(8));
fmtAxis(bAxX,{tick:"#555",font:SANS,size:13.5,color:"#444"});
gB.append("text").attr("transform","translate(313,605) rotate(-90)").attr("text-anchor","middle").attr("font-family",SANS).attr("font-size",24.5).attr("fill","#222").text("Relative Intensity");
gB.append("text").attr("x",737).attr("y",815).attr("text-anchor","middle").attr("font-family",SANS).attr("font-size",24).attr("fill","#222").text("Energy (keV)");
svg.append("rect").attr("x",17).attr("y",824).attr("width",1118).attr("height",2).attr("fill","#d0d0d0");
</script></body></html>
